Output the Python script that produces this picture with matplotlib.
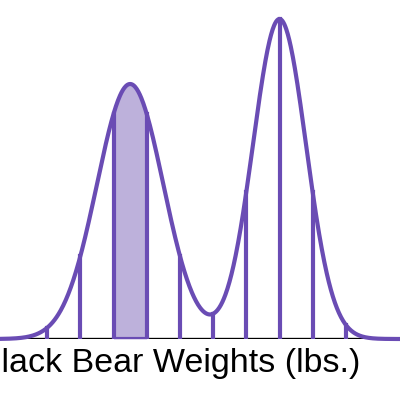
import numpy as np
import matplotlib.pyplot as plt

# bimodal density: two normal bumps (positions in bin units)
means = [3.5, 8.0]
sds = [1.0, 0.8]
heights = [255, 320]

# vertical reference lines at each bin edge
line_pos = [1, 2, 3, 4, 5, 6, 7, 8, 9, 10]
shade_range = (3, 4)

label = "Black Bear Weights (lbs.)"

purple = "#6A4CB4"
light = "#BDB1DB"


def density(x):
    x = np.asarray(x, dtype=float)
    y = np.zeros_like(x)
    for m, s, h in zip(means, sds, heights):
        y += h * np.exp(-(x - m) ** 2 / (2 * s ** 2))
    return y


fig = plt.figure(figsize=(4, 4), dpi=100)
ax = fig.add_axes([0, 61 / 400, 1, 339 / 400])
ax.set_xlim(-0.42, 11.63)
ax.set_ylim(0, 339)
ax.axis("off")

ax.axhline(0, color="black", linewidth=2.4, zorder=1)

xs = np.linspace(-0.5, 11.7, 800)
ax.plot(xs, density(xs), color=purple, linewidth=3, zorder=4, clip_on=False,
        solid_capstyle="round")

# shaded bin
xf = np.linspace(shade_range[0], shade_range[1], 100)
ax.fill_between(xf, 0, density(xf), color=light, zorder=2, linewidth=0)
ax.plot([shade_range[0], shade_range[1]], [0, 0], color=purple, linewidth=3, zorder=3)

for p in line_pos:
    ax.plot([p, p], [0, density([p])[0]], color=purple, linewidth=3, zorder=3)

fig.text(0.9, 0.07, label, ha="right", va="baseline", fontsize=24.5,
         family=["Liberation Sans", "DejaVu Sans"])

fig.savefig("out.png", dpi=100)
